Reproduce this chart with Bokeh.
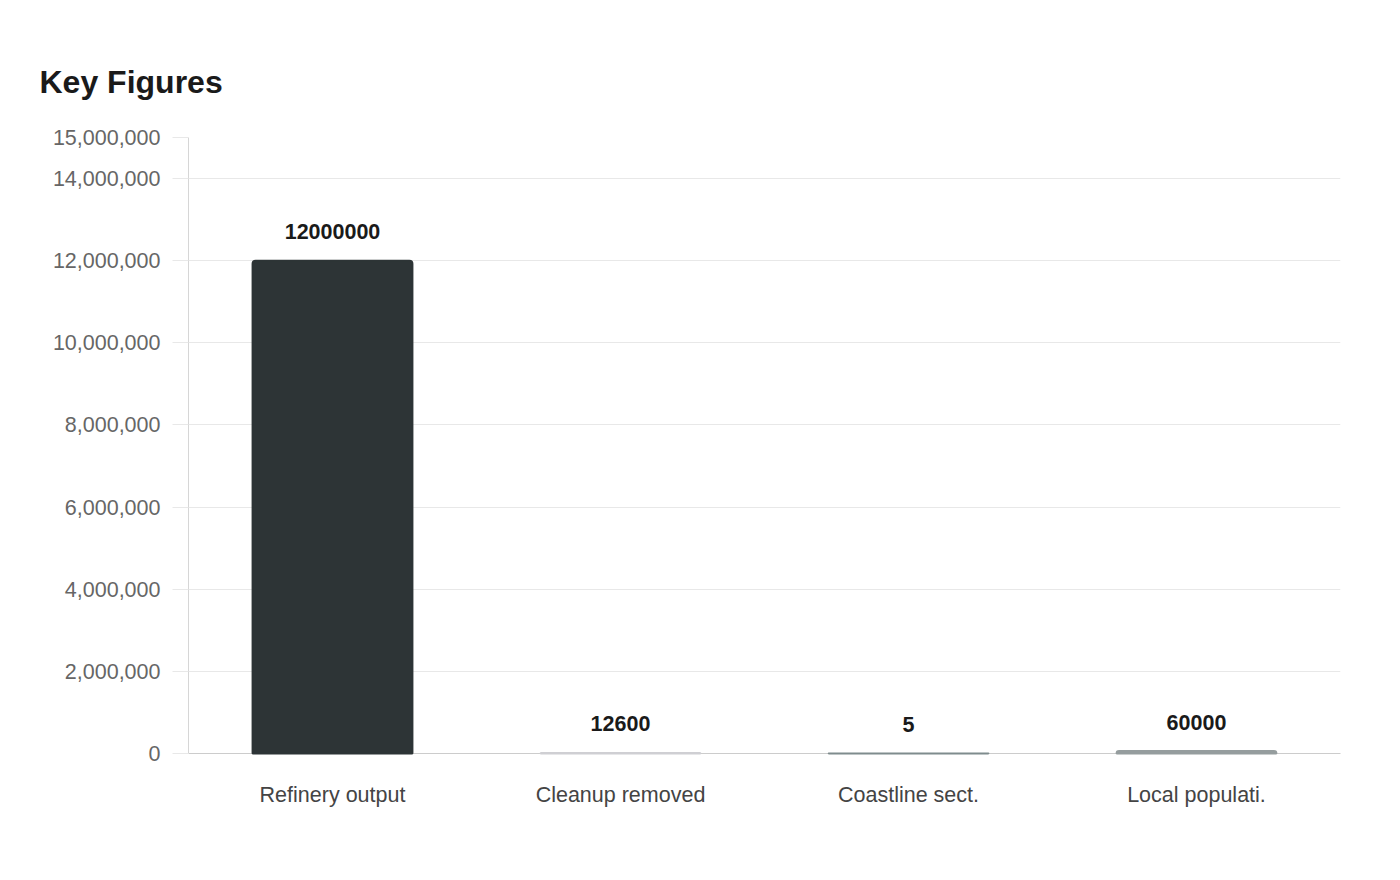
from bokeh.plotting import figure
from bokeh.models import ColumnDataSource, FixedTicker, NumeralTickFormatter, FactorRange, Range1d
from bokeh.core.properties import value
from bokeh.embed import file_html
from bokeh.resources import INLINE

categories = ["Refinery output", "Cleanup removed", "Coastline sect.", "Local populati."]
values = [12000000, 12600, 5, 60000]
labels = ["12000000", "12600", "5", "60000"]
colors = ["#2d3436", "#cfcfd3", "#7f8c8d", "#959d9e"]
y_ticks = [0, 2000000, 4000000, 6000000, 8000000, 10000000, 12000000, 14000000, 15000000]

FONT = "Liberation Sans"

src = ColumnDataSource(dict(cat=categories, val=values, lab=labels, col=colors))

p = figure(
    x_range=FactorRange(*categories), y_range=Range1d(0, 15000000),
    frame_width=1152, frame_height=616,
    min_border_left=188, min_border_right=52, min_border_top=137, min_border_bottom=115,
    output_backend="svg", toolbar_location=None,
    title="Key Figures",
)
p.outline_line_color = None
p.background_fill_color = "white"
p.border_fill_color = "white"

p.title.text_font = FONT
p.title.text_font_size = "32px"
p.title.text_font_style = "bold"
p.title.text_color = "#1a1a1a"
p.title.align = "left"
p.title.offset = -149
p.title.standoff = 75

p.vbar(x="cat", top="val", width=0.555, source=src, fill_color="col",
       line_color="col", line_width=2, border_radius=(3, 3, 0, 0), level="overlay")

p.text(x="cat", y="val", text="lab", source=src, text_align="center",
       text_baseline="middle", y_offset=-29, text_font=value(FONT),
       text_font_size="21.5px", text_font_style="bold", text_color="#1a1a1a")

p.xgrid.grid_line_color = None
p.ygrid.grid_line_color = "#e8e8e8"
p.ygrid.grid_line_width = 1

p.yaxis.ticker = FixedTicker(ticks=y_ticks)
p.yaxis.formatter = NumeralTickFormatter(format="0,0")
p.yaxis.axis_line_color = "#d6d6d6"
p.yaxis.major_tick_line_color = "#e8e8e8"
p.yaxis.major_tick_out = 16
p.yaxis.major_tick_in = 0
p.yaxis.minor_tick_line_color = None
p.yaxis.major_label_standoff = 12
p.yaxis.major_label_text_font = FONT
p.yaxis.major_label_text_font_size = "21.5px"
p.yaxis.major_label_text_color = "#666666"

p.xaxis.axis_line_color = "#cccccc"
p.xaxis.major_tick_line_color = None
p.xaxis.minor_tick_line_color = None
p.xaxis.major_label_standoff = 23
p.xaxis.major_label_text_font = FONT
p.xaxis.major_label_text_font_size = "21.5px"
p.xaxis.major_label_text_color = "#444444"

open("out.html", "w").write(file_html(p, INLINE))
